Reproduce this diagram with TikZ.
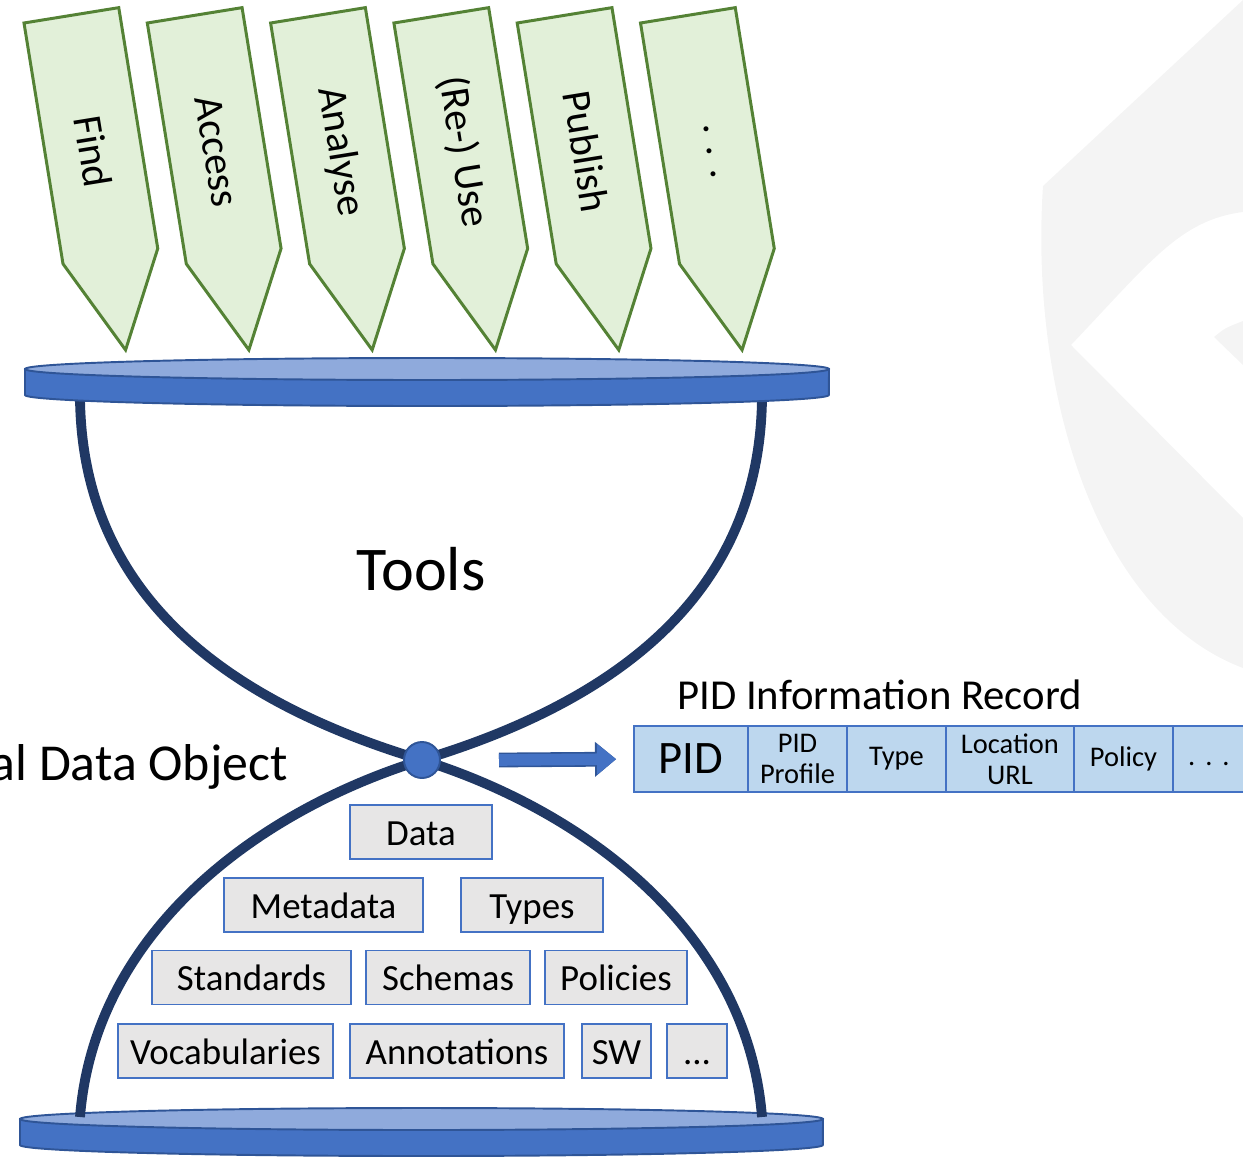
\documentclass[tikz,border=0pt]{standalone}
\usepackage{fontspec}
\setmainfont{Carlito}
\usetikzlibrary{calc}
\usetikzlibrary{positioning}
\usetikzlibrary{arrows.meta}

\definecolor{leafgreen}{HTML}{E2F0D9}
\definecolor{leafedge}{HTML}{548235}
\definecolor{discblue}{HTML}{4472C4}
\definecolor{disctop}{HTML}{8FAADC}
\definecolor{discedge}{HTML}{2F5597}
\definecolor{glassnavy}{HTML}{203864}
\definecolor{cellblue}{HTML}{BDD7EE}
\definecolor{boxgray}{HTML}{E7E6E6}
\definecolor{markgray}{HTML}{F4F4F4}

\begin{document}
\begin{tikzpicture}[x=0.02cm,y=-0.02cm,
    tool/.style={draw=leafedge,fill=leafgreen,line width=1.7pt,line join=miter},
    toollabel/.style={font=\fontsize{23.5}{26}\selectfont,rotate=-80.8,inner sep=0pt},
    glass/.style={draw=glassnavy,line width=5.6pt},
    cell/.style={draw=discblue,fill=cellblue,line width=1.1pt,minimum height=1.32cm,
      inner sep=0pt,outer sep=0pt,align=center,font=\fontsize{16.2}{17.4}\selectfont},
    layer/.style={draw=discblue,fill=boxgray,line width=1.1pt,minimum height=1.08cm,
      inner sep=0pt,text height=15pt,text depth=0.2pt,font=\fontsize{21}{24}\selectfont},
    link/.style={draw=discblue,line width=6.6pt,shorten >=0.36cm,
      -{Triangle[length=0.38cm,width=0.62cm,line width=0pt]},
      preaction={draw=discedge,line width=8.4pt,shorten >=0.36cm,
        -{Triangle[length=0.42cm,width=0.70cm,line width=0pt]}}}]
      \useasboundingbox (0,0) rectangle (1243,1156);

      % faint logo in the back
      \fill[markgray,even odd rule] (1243,0) -- (1043,186)
        .. controls (1030,380) and (1090,610) .. (1243,668) -- cycle
        (1243,212) .. controls (1180,220) and (1150,262) .. (1071,345) -- (1243,518) -- cycle
        (1214,337) .. controls (1225,328) .. (1243,321) -- (1243,365) -- cycle;

      % actions on top
      \foreach \lbl [count=\i from 0] in {Find,Access,Analyse,{(Re-) Use},Publish,{. . .}} {
        \begin{scope}[shift={(24+123.3*\i,23)},rotate=9.2]
          \draw[tool] (0,0) -- (96,0) -- (96,244) -- (48,339) -- (0,244) -- cycle;
          \node[toollabel] (tool\i) at (48,138) {\lbl};
        \end{scope}
      }

      % bottom plate
      \filldraw[fill=discblue,draw=discedge,line width=1.1pt] (20,1119) -- (20,1145)
        arc[start angle=180,end angle=360,x radius=8.03cm,y radius=0.22cm] -- (823,1119) -- cycle;
      \filldraw[fill=disctop,draw=discedge,line width=1.1pt] (421.5,1119) ellipse [x radius=8.03cm,y radius=0.22cm];

      % hourglass
      \coordinate (ul) at (80,398);
      \coordinate (ur) at (762,398);
      \coordinate (ll) at (80,1117);
      \coordinate (lr) at (762,1117);
      \coordinate (neck) at (422,760);
      \draw[glass] (ul) .. controls (82,580) and (205,695) .. (neck);
      \draw[glass] (ur) .. controls (760,580) and (637,695) .. (neck);
      \draw[glass] (neck) .. controls (260,810) and (95,930) .. (ll);
      \draw[glass] (neck) .. controls (582,810) and (747,930) .. (lr);

      % top plate
      \filldraw[fill=discblue,draw=discedge,line width=1.1pt] (25,369) -- (25,395)
        arc[start angle=180,end angle=360,x radius=8.04cm,y radius=0.22cm] -- (829,369) -- cycle;
      \filldraw[fill=disctop,draw=discedge,line width=1.1pt] (427,369) ellipse [x radius=8.04cm,y radius=0.22cm];

      \node[circle,fill=discblue,draw=discedge,line width=1.1pt,minimum size=0.72cm,inner sep=0pt] (waist) at (neck) {};

      \node[font=\fontsize{35.4}{40}\selectfont,inner sep=0pt,anchor=base] (tools) at (421,590) {Tools};
      \node[font=\fontsize{29.5}{32}\selectfont,inner sep=0pt,anchor=base east] (ddo) at (288,780) {Digital Data Object};
      \node[font=\fontsize{24.3}{26}\selectfont,inner sep=0pt,anchor=base west] (pirtitle) at (677,709) {PID Information Record};

      % PID record
      \node[cell,minimum width=2.28cm,font=\fontsize{26.5}{28}\selectfont] (pid) at (691,759) {PID};
      \node[cell,minimum width=1.98cm,right=0pt of pid] (profile) {PID\\Profile};
      \node[cell,minimum width=1.98cm,right=0pt of profile] (type) {Type};
      \node[cell,minimum width=2.56cm,right=0pt of type] (location) {Location\\URL};
      \node[cell,minimum width=1.98cm,right=0pt of location] (policy) {Policy};
      \node[cell,minimum width=1.44cm,right=0pt of policy] (more) {\vphantom{Py}.\hspace{0.35em}.\hspace{0.35em}.};

      \coordinate (tail) at (499,760);
      \draw[link] (tail) -- (pid.west);

      % what the PID points to
      \node[layer,minimum width=2.84cm] (data) at (421,832) {Data};
      \node[layer,minimum width=3.98cm] (metadata) at (323.5,905) {Metadata};
      \node[layer,minimum width=2.84cm] (types) at (532,905) {Types};
      \node[layer,minimum width=3.98cm] (standards) at (251.5,977.5) {Standards};
      \node[layer,minimum width=3.28cm] (schemas) at (448,977.5) {Schemas};
      \node[layer,minimum width=2.84cm] (policies) at (616,977.5) {Policies};
      \node[layer,minimum width=4.30cm] (vocab) at (225.5,1051) {Vocabularies};
      \node[layer,minimum width=4.28cm] (annot) at (457,1051) {Annotations};
      \node[layer,minimum width=1.38cm] (sw) at (616.5,1051) {SW};
      \node[layer,minimum width=1.20cm] (etc) at (697,1051) {...};
\end{tikzpicture}
\end{document}
